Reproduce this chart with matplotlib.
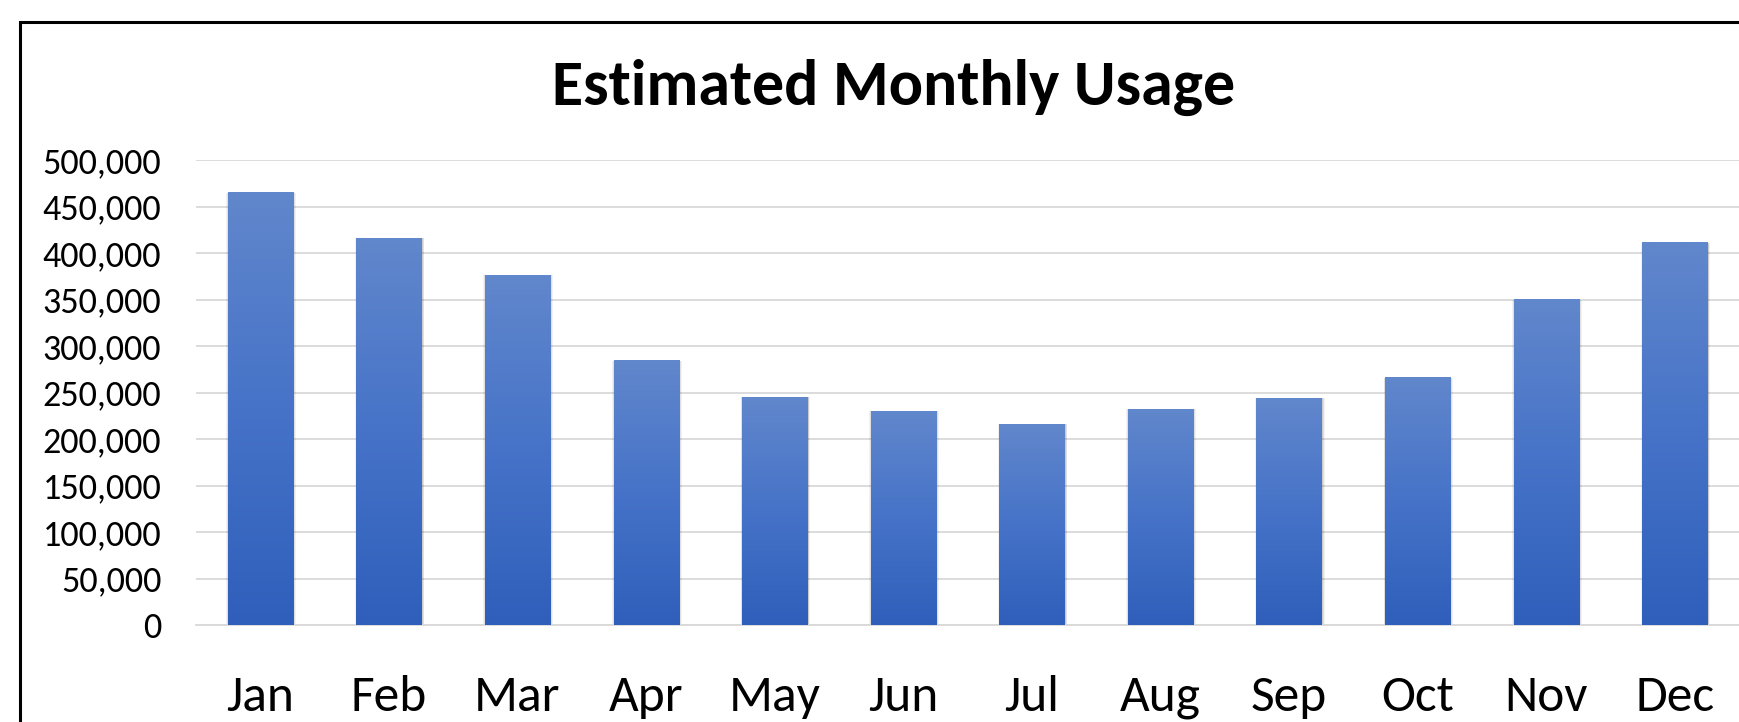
import matplotlib
matplotlib.use("Agg")
import matplotlib.pyplot as plt
from matplotlib import font_manager
from matplotlib.patches import Rectangle
from matplotlib.ticker import FuncFormatter, MultipleLocator
import numpy as np

# Data
months = ["Jan", "Feb", "Mar", "Apr", "May", "Jun",
          "Jul", "Aug", "Sep", "Oct", "Nov", "Dec"]
usage = [465000, 416000, 376000, 284000, 245000, 230000,
         216000, 232000, 244000, 266000, 350000, 411000]
title = "Estimated Monthly Usage"

# Calibri look-alike if there is one, else Lato
names = set(f.name for f in font_manager.fontManager.ttflist)
font = "Carlito" if "Carlito" in names else "Lato"
plt.rcParams["font.family"] = [font, "DejaVu Sans"]

W, H, dpi = 1739, 722, 100
fig = plt.figure(figsize=(W / dpi, H / dpi), dpi=dpi)

# plot area in pixels: left 196, right 1739, top 160, bottom 625
ax = fig.add_axes([196 / W, 1 - 625 / H, (W - 196) / W, (625 - 160) / H])

x = np.arange(len(months))
bw = 0.506

ax.yaxis.set_major_locator(MultipleLocator(50000))
ax.yaxis.set_major_formatter(FuncFormatter(lambda v, p: f"{v:,.0f}"))
ax.grid(axis="y", color="#d9d9d9", lw=1.3)
ax.set_axisbelow(True)
for s in ["top", "right", "left"]:
    ax.spines[s].set_visible(False)
ax.spines["bottom"].set_color("#d9d9d9")
ax.spines["bottom"].set_linewidth(1.3)

# soft shadow under the bars
for k, a in [(0.035, 0.05), (0.022, 0.07), (0.01, 0.09)]:
    ax.bar(x + 0.006, np.array(usage) + 1500, width=bw + k, bottom=-1500,
           color="black", alpha=a, lw=0, zorder=1)

# bars with vertical gradient (light at top, darker at bottom)
bars = ax.bar(x, usage, width=bw, color="#4472c4", lw=0, zorder=2)
grad = np.linspace(0, 1, 256).reshape(-1, 1)
cmap = matplotlib.colors.LinearSegmentedColormap.from_list(
    "g", ["#6187cc", "#4673c8", "#2f5fbb"])
for b in bars:
    x0, w, h = b.get_x(), b.get_width(), b.get_height()
    ax.imshow(grad, extent=(x0, x0 + w, 0, h), cmap=cmap, aspect="auto",
              origin="upper", zorder=3, interpolation="bilinear")
ax.set_xlim(-0.5, len(months) - 0.5)
ax.set_ylim(0, 500000)

ax.set_xticks(x)
ax.set_xticklabels(months)
ax.tick_params(axis="x", length=0, labelsize=37, pad=36)
ax.tick_params(axis="y", length=0, labelsize=26, pad=25)

fig.text(894 / W, 1 - 105 / H, title, ha="center", va="baseline",
         fontsize=46, fontweight="bold")

# chart border (runs off the right and bottom of the picture)
fig.patches.append(Rectangle((20 / W, -0.5), 2, 1 - 22 / H + 0.5,
                             transform=fig.transFigure, fill=False,
                             ec="black", lw=2.2))

fig.savefig("out.png", dpi=dpi)
